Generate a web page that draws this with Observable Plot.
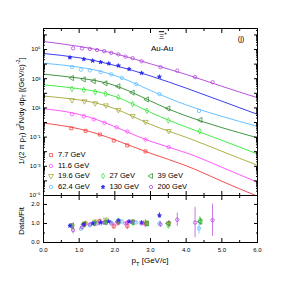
<!DOCTYPE html>
<html><head><meta charset="utf-8">
<script src="https://cdn.jsdelivr.net/npm/d3@7"></script>
<script src="https://cdn.jsdelivr.net/npm/@observablehq/plot@0.6"></script>
<style>
body{margin:0;background:#fff;font-family:"Liberation Sans",Arial,sans-serif;}
#c{position:relative;width:286px;height:286px;overflow:hidden;background:#fff;}
#c > svg{position:absolute;left:0;}
.lbl{position:absolute;color:#000;white-space:nowrap;line-height:1;font-family:"Liberation Sans",Arial,sans-serif;}
.rot{transform:translate(-50%,-50%) rotate(-90deg);}
.ctr{transform:translate(-50%,-50%);}
.lg{position:absolute;font-size:7.5px;white-space:nowrap;line-height:1;display:flex;align-items:center;}
.lg svg{margin-right:3px;overflow:visible;}
</style></head><body><div id="c"></div>
<script>
// ---------- data ----------
const energies = ["7.7 GeV","11.6 GeV","19.6 GeV","27 GeV","39 GeV","62.4 GeV","130 GeV","200 GeV"];
const colors   = ["#f23c3c","#ff44ff","#a6a635","#33e833","#2e8b2e","#55bbff","#2828ee","#b040d8"];
const symbols  = ["square","circle","triangle","diamond","triangle","circle","star","circle"];
const rotations= [0,0,180,0,-90,0,0,0];
const filled   = [false,false,false,false,false,false,true,false];

// fit curves, read at pT = 0..6
const fitPt = [0,1,2,3,4,5,6];
const fit77  = [0.918,0.368,0.0652,0.00778,0.00109,9.48e-5,8.95e-6];
const fit116 = [8.85,3.61,0.520,0.0515,0.00843,8.61e-4,8.11e-5];
const fit196 = [64.3,35.3,8.85,0.748,0.0966,0.01067,0.001178];
const fit27  = [386,206,61.2,4.94,0.490,0.0603,0.00698];
const fit39  = [2051,1091,346,29.5,2.82,0.447,0.0893];
const fit624 = [11590,6166,1671,157.8,16.07,2.63,0.545];
const fit130 = [53330,27100,8054,1545,226.5,28.8,3.61];
const fit200 = [354800,162200,52480,10470,1950,302,50.1];

// data points
const pt77  = [0.78,1.18,1.58,1.97,2.35,2.86];
const y77   = [0.405,0.270,0.151,0.0583,0.0270,0.0105];
const r77   = [0.9,1.0,1.12,0.85,0.87,1.0];
const e77   = [0.1,0.12,0.12,0.15,0.2,0.2];

const pt116 = [0.8,1.13,1.41,1.71,2.05,2.35,2.86,3.51];
const y116  = [3.66,2.67,1.63,0.957,0.463,0.243,0.0678,0.0205];
const r116  = [0.85,0.95,1.0,1.05,1.0,1.05,0.95,1.0];
const e116  = [0.08,0.07,0.06,0.07,0.07,0.08,0.1,0.15];

const pt196 = [0.8,1.15,1.45,1.75,2.1,2.5,2.86,3.51];
const y196  = [33.8,28.7,20.8,15.0,7.26,2.83,1.11,0.264];
const r196  = [0.85,1.0,1.1,1.2,1.05,1.1,1.05,1.0];
const e196  = [0.07,0.08,0.07,0.08,0.08,0.09,0.1,0.12];

const pt27  = [0.8,1.13,1.45,1.74,2.1,2.5,2.9,3.5,4.38];
const y27   = [198.6,167,125.3,92.3,54.8,18.3,6.35,1.37,0.252];
const r27   = [0.85,0.95,1.05,1.1,1.15,1.05,1.0,0.88,1.14];
const e27   = [0.06,0.06,0.06,0.06,0.07,0.07,0.08,0.12,0.22];

const pt39  = [0.8,1.13,1.41,1.74,2.1,2.5,2.9,3.5,4.4];
const y39   = [1114,893,681,490,300,111.6,37.8,9.12,1.48];
const r39   = [0.9,0.95,1.0,1.05,1.1,1.05,1.0,1.0,1.1];
const e39   = [0.06,0.05,0.05,0.05,0.06,0.06,0.07,0.1,0.2];

const pt624 = [0.8,1.05,1.3,1.6,1.9,2.2,2.6,3.25,4.36];
const y624  = [6295,4159,3750,2818,2000,1146,426,89.1,6.19];
const r624  = [0.9,0.72,0.9,1.0,1.05,1.1,1.05,1.0,0.74];
const e624  = [0.08,0.06,0.06,0.06,0.06,0.07,0.08,0.12,0.3];

const pt130 = [0.74,1.13,1.38,1.6,1.83,2.1,2.4,2.75,3.25];
const y130  = [28380,21980,17100,13740,10890,7852,4571,2449,1355];
const r130  = [0.88,0.95,1.0,1.05,1.1,1.15,1.1,1.05,1.42];
const e130  = [0.08,0.06,0.06,0.06,0.06,0.07,0.07,0.08,0.15];

const pt200 = [0.83,1.08,1.3,1.5,1.7,1.9,2.1,2.3,2.5,2.75,3.28,3.75,4.25,4.74];
const y200  = [120500,118600,109900,92260,77270,58750,46880,32360,25760,15670,6223,3565,1285,574];
const r200  = [0.65,0.8,0.95,1.0,1.05,1.0,1.05,1.0,1.1,1.0,0.95,1.2,1.05,1.17];
const e200  = [0.2,0.08,0.06,0.06,0.06,0.06,0.06,0.07,0.08,0.1,0.15,0.35,0.8,0.85];

const xTicks = [0,1,2,3,4,5,6];
const yExps  = [-5,-4,-3,-2,-1,0,1,2,3,4,5,6];
const yLabelExps = [-5,-3,-1,1,3,5];
const rTicks = [0,1,2];

// ---------- tables ----------
const fits = [fit77,fit116,fit196,fit27,fit39,fit624,fit130,fit200];
const pts  = [pt77,pt116,pt196,pt27,pt39,pt624,pt130,pt200];
const ys   = [y77,y116,y196,y27,y39,y624,y130,y200];
const rs   = [r77,r116,r196,r27,r39,r624,r130,r200];
const es   = [e77,e116,e196,e27,e39,e624,e130,e200];

const fitRows = energies.flatMap((s,k) => fitPt.map((x,i) => ({s, x, y: fits[k][i]})));
const dataRows = energies.map((s,k) => pts[k].map((x,i) => ({s, x, y: ys[k][i], r: rs[k][i], e: es[k][i]})));

const sup = {"-":"⁻","0":"⁰","1":"¹","2":"²","3":"³","4":"⁴","5":"⁵","6":"⁶","7":"⁷","8":"⁸","9":"⁹"};
const fmtPow = d => { const e = Math.round(Math.log10(d)); return "10" + String(e).split("").map(c => sup[c]).join(""); };

const decades = yExps.map(e => Math.pow(10, e));
const minorY = yExps.flatMap(e => [2,3,4,5,6,7,8,9].map(m => m*Math.pow(10,e))).filter(v => v < 2.75e6);
const minorX = d3.range(0, 6.01, 0.5).filter(v => !xTicks.includes(v));
const minorR = [0.5,1.5];

const colorScale = {domain: energies, range: colors};
const font = {fontFamily: "Liberation Sans, Arial, sans-serif"};
const markR = k => symbols[k] === "star" ? 1.25 : (symbols[k] === "triangle" ? 1.9 : 1.7);

function dotMarks(yKey, rows, k) {
  return Plot.dot(rows, {
    x: "x", y: yKey, symbol: symbols[k], rotate: rotations[k],
    r: markR(k),
    stroke: colors[k], strokeWidth: 0.75,
    fill: filled[k] ? colors[k] : "none"
  });
}

// ---------- top panel ----------
const topPlot = Plot.plot({
  width: 286, height: 200,
  marginLeft: 43, marginRight: 29, marginTop: 28, marginBottom: 5,
  style: {...font, fontSize: "6px", background: "transparent"},
  x: {domain: [0, 6]},
  y: {type: "log", domain: [1e-5, 2.75e6]},
  color: colorScale,
  marks: [
    Plot.line(fitRows, {x: "x", y: "y", z: "s", stroke: "s", curve: "natural", strokeWidth: 0.9, clip: true}),
    ...dataRows.map((rows,k) => dotMarks("y", rows, k)),
    Plot.frame({stroke: "#000", strokeWidth: 1}),
    Plot.axisY({ticks: yLabelExps.map(e => Math.pow(10,e)), tickSize: 0, tickPadding: 3, tickFormat: fmtPow, label: null}),
    Plot.axisY({anchor: "left", ticks: decades, tickSize: -4, tickFormat: () => "", label: null}),
    Plot.axisY({anchor: "left", ticks: minorY, tickSize: -2, tickFormat: () => "", label: null}),
    Plot.axisY({anchor: "right", ticks: decades, tickSize: -4, tickFormat: () => "", label: null}),
    Plot.axisY({anchor: "right", ticks: minorY, tickSize: -2, tickFormat: () => "", label: null}),
    Plot.axisX({anchor: "top", ticks: xTicks, tickSize: -4, tickFormat: () => "", label: null}),
    Plot.axisX({anchor: "top", ticks: minorX, tickSize: -2, tickFormat: () => "", label: null}),
    Plot.axisX({anchor: "bottom", ticks: xTicks, tickSize: -4, tickFormat: () => "", label: null}),
    Plot.axisX({anchor: "bottom", ticks: minorX, tickSize: -2, tickFormat: () => "", label: null})
  ]
});
topPlot.style.top = "0px";

// ---------- ratio panel ----------
const allRows = dataRows.flat();
const bottomPlot = Plot.plot({
  width: 286, height: 96,
  marginLeft: 43, marginRight: 29, marginTop: 5, marginBottom: 44,
  style: {...font, fontSize: "6px", background: "transparent"},
  x: {domain: [0, 6]},
  y: {domain: [0, 2.47]},
  color: colorScale,
  marks: [
    Plot.ruleX(allRows, {x: "x", y1: d => d.r - d.e, y2: d => d.r + d.e, stroke: "s", strokeWidth: 0.7}),
    ...dataRows.map((rows,k) => dotMarks("r", rows, k)),
    Plot.frame({stroke: "#000", strokeWidth: 1}),
    Plot.axisY({ticks: rTicks, tickSize: 0, tickPadding: 4, label: null}),
    Plot.axisY({anchor: "left", ticks: rTicks, tickSize: -4, tickFormat: () => "", label: null}),
    Plot.axisY({anchor: "left", ticks: minorR, tickSize: -2, tickFormat: () => "", label: null}),
    Plot.axisY({anchor: "right", ticks: rTicks, tickSize: -4, tickFormat: () => "", label: null}),
    Plot.axisY({anchor: "right", ticks: minorR, tickSize: -2, tickFormat: () => "", label: null}),
    Plot.axisX({anchor: "bottom", ticks: xTicks, tickSize: 0, tickPadding: 5, label: null}),
    Plot.axisX({anchor: "bottom", ticks: xTicks, tickSize: -4, tickFormat: () => "", label: null}),
    Plot.axisX({anchor: "bottom", ticks: minorX, tickSize: -2, tickFormat: () => "", label: null}),
    Plot.axisX({anchor: "top", ticks: xTicks, tickSize: -4, tickFormat: () => "", label: null}),
    Plot.axisX({anchor: "top", ticks: minorX, tickSize: -2, tickFormat: () => "", label: null})
  ]
});
bottomPlot.style.top = "190px";

const c = document.getElementById("c");
c.appendChild(bottomPlot);
c.appendChild(topPlot);

// ---------- labels ----------
function lbl(html, x, y, size, cls) {
  const d = document.createElement("div");
  d.className = "lbl " + cls;
  d.style.left = x + "px"; d.style.top = y + "px"; d.style.fontSize = size + "px";
  d.innerHTML = html;
  c.appendChild(d);
}
lbl("1/(2 π p<sub style='font-size:70%'>T</sub>) d<sup style='font-size:70%'>2</sup>N/dy dp<sub style='font-size:70%'>T</sub> [(GeV/c)<sup style='font-size:70%'>-2</sup>]", 22, 111, 7.5, "rot");
lbl("Data/Fit", 22, 221, 8, "rot");
lbl("p<sub style='font-size:70%'>T</sub> [GeV/c]", 150, 262, 8, "ctr");
lbl("<span style='text-decoration:overline'>Ξ</span><sup style='font-size:65%'>+</sup>", 163, 36, 8, "ctr");
lbl("Au-Au", 162, 49, 8, "ctr");
lbl("(j)", 241, 39, 7.5, "ctr");

// ---------- legend ----------
const symMap = {square: d3.symbolSquare, circle: d3.symbolCircle, triangle: d3.symbolTriangle, diamond: d3.symbolDiamond, star: d3.symbolStar};
const legendRows = [[0],[1],[2,3,4],[5,6,7]];
const colX = [51, 102.5, 150.5];
const rowY = [155, 165.5, 176, 186.5];
legendRows.forEach((row, ri) => row.forEach((k, ci) => {
  const d = document.createElement("div");
  d.className = "lg";
  const r = markR(k);
  const path = d3.symbol(symMap[symbols[k]], Math.PI * r * r)();
  d.innerHTML = `<svg width="8" height="8" viewBox="-4 -4 8 8"><path d="${path}" transform="rotate(${rotations[k]})" fill="${filled[k] ? colors[k] : "none"}" stroke="${colors[k]}" stroke-width="0.75"/></svg><span>${energies[k]}</span>`;
  d.style.left = (colX[ci] - 4) + "px";
  d.style.top = (rowY[ri] - 4) + "px";
  c.appendChild(d);
}));
</script></body></html>
